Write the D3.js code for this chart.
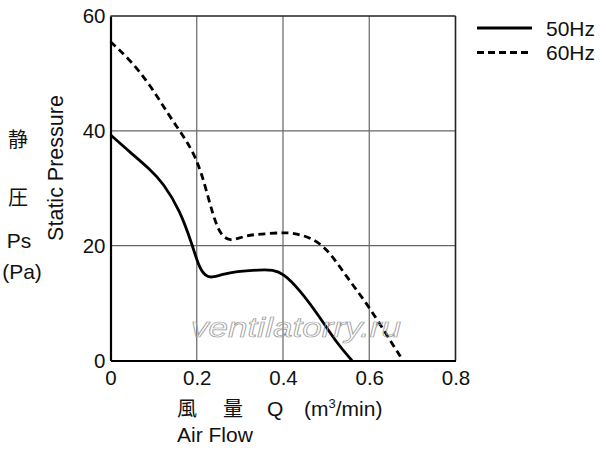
<!DOCTYPE html>
<html><head><meta charset="utf-8">
<script src="https://cdn.jsdelivr.net/npm/d3@7"></script>
<style>body{margin:0;background:#fff}svg{display:block}</style>
</head><body>
<svg id="c" width="600" height="449"></svg>
<script>
const xTicks = [0, 0.2, 0.4, 0.6, 0.8];
const yTicks = [0, 20, 40, 60];
const seriesNames = ["50Hz", "60Hz"];
const flow50 = [0, 0.045, 0.092, 0.122, 0.161, 0.191, 0.205, 0.22, 0.235, 0.26, 0.29, 0.347, 0.377, 0.4, 0.439, 0.485, 0.525, 0.56];
const pres50 = [39.3, 36.3, 33.3, 30.9, 26.2, 19.8, 16.3, 14.7, 14.4, 15.0, 15.5, 15.8, 15.8, 15.2, 12.3, 7.6, 3.0, 0];
const flow60 = [0, 0.045, 0.092, 0.138, 0.161, 0.2, 0.224, 0.249, 0.277, 0.312, 0.347, 0.4, 0.423, 0.462, 0.502, 0.548, 0.594, 0.641, 0.678];
const pres60 = [55.5, 52.4, 48.0, 42.4, 40.0, 35.4, 29.2, 22.2, 20.6, 21.8, 22.0, 22.3, 22.2, 21.5, 19.6, 14.5, 10.0, 4.4, 0];

const svg = d3.select("#c");
const L = 110.5, R = 455.5, T = 16, B = 360.5;
const x = d3.scaleLinear().domain([0, 0.8]).range([L, R]);
const y = d3.scaleLinear().domain([0, 60]).range([B, T]);
const font = "'Liberation Sans', Arial, sans-serif";
const cjk = "'Noto Sans CJK JP', sans-serif";
const FS = 21;

// grid
svg.append("g").selectAll("line").data(xTicks.filter(d => d > 0 && d < 0.8)).join("line")
  .attr("x1", d => x(d)).attr("x2", d => x(d)).attr("y1", T).attr("y2", B)
  .attr("stroke", "#666").attr("stroke-width", 1.2);
svg.append("g").selectAll("line").data(yTicks.filter(d => d > 0 && d < 60)).join("line")
  .attr("y1", d => y(d)).attr("y2", d => y(d)).attr("x1", L).attr("x2", R)
  .attr("stroke", "#666").attr("stroke-width", 1.2);

// frame
svg.append("line").attr("x1", L).attr("x2", R).attr("y1", T).attr("y2", T).attr("stroke", "#222").attr("stroke-width", 1.6);
svg.append("line").attr("x1", R).attr("x2", R).attr("y1", T).attr("y2", B).attr("stroke", "#222").attr("stroke-width", 1.6);

// axes
const xAxis = svg.append("g").attr("transform", `translate(0,${B})`)
  .call(d3.axisBottom(x).tickValues(xTicks).tickSize(0).tickPadding(10).tickFormat(d => d === 0 ? "0" : d3.format(".1f")(d)));
const yAxis = svg.append("g").attr("transform", `translate(${L},0)`)
  .call(d3.axisLeft(y).tickValues(yTicks).tickSize(0).tickPadding(5));
[xAxis, yAxis].forEach(g => {
  g.select(".domain").attr("stroke", "#000").attr("stroke-width", 2.2);
  g.selectAll("text").attr("font-family", font).attr("font-size", 20.5).attr("fill", "#111");
});

// curves
const line = d3.line().x(d => x(d[0])).y(d => y(d[1])).curve(d3.curveBasis);
const d50 = flow50.map((f, i) => [f, pres50[i]]);
const d60 = flow60.map((f, i) => [f, pres60[i]]);
svg.append("path").attr("d", line(d50)).attr("fill", "none").attr("stroke", "#000").attr("stroke-width", 2.8);
svg.append("path").attr("d", line(d60)).attr("fill", "none").attr("stroke", "#000").attr("stroke-width", 2.8)
  .attr("stroke-dasharray", "7,4.5");

// watermark
svg.append("text").attr("transform", "translate(296,337) scale(1.3,1)").attr("text-anchor", "middle")
  .attr("font-family", font).attr("font-style", "italic").attr("font-size", 27)
  .attr("fill", "none").attr("stroke", "#999").attr("stroke-width", 0.7)
  .text("ventilatorry.ru");

// legend
const lg = svg.append("g");
seriesNames.forEach((n, i) => {
  const yy = 28 + i * 24.5;
  lg.append("line").attr("x1", 477).attr("x2", 532).attr("y1", yy).attr("y2", yy)
    .attr("stroke", "#000").attr("stroke-width", 2.8)
    .attr("stroke-dasharray", i === 1 ? "7,4" : null);
  lg.append("text").attr("x", 546).attr("y", yy + 7.5).attr("font-family", font).attr("font-size", FS)
    .attr("fill", "#111").text(n);
});

// y labels
const yl = svg.append("g").attr("fill", "#111");
yl.append("text").attr("x", 18).attr("y", 147).attr("text-anchor", "middle").attr("font-family", cjk).attr("font-size", 20).text("静");
yl.append("text").attr("x", 18).attr("y", 205).attr("text-anchor", "middle").attr("font-family", cjk).attr("font-size", 20).text("圧");
yl.append("text").attr("x", 19).attr("y", 248).attr("text-anchor", "middle").attr("font-family", font).attr("font-size", FS).text("Ps");
yl.append("text").attr("x", 22).attr("y", 279).attr("text-anchor", "middle").attr("font-family", font).attr("font-size", FS).text("(Pa)");
yl.append("text").attr("transform", "translate(63,168) rotate(-90)").attr("text-anchor", "middle")
  .attr("font-family", font).attr("font-size", 21.5).text("Static Pressure");

// x labels
const xl = svg.append("g").attr("fill", "#111");
xl.append("text").attr("x", 177).attr("y", 416).attr("font-family", cjk).attr("font-size", 20).text("風");
xl.append("text").attr("x", 223).attr("y", 416).attr("font-family", cjk).attr("font-size", 20).text("量");
xl.append("text").attr("x", 267).attr("y", 416).attr("font-family", font).attr("font-size", FS).text("Q");
const t = xl.append("text").attr("x", 304).attr("y", 416).attr("font-family", font).attr("font-size", FS);
t.append("tspan").text("(m");
t.append("tspan").attr("font-size", 13).attr("dy", -8).text("3");
t.append("tspan").attr("dy", 8).text("/min)");
xl.append("text").attr("x", 177).attr("y", 442).attr("font-family", font).attr("font-size", FS).text("Air Flow");
</script>
</body></html>
